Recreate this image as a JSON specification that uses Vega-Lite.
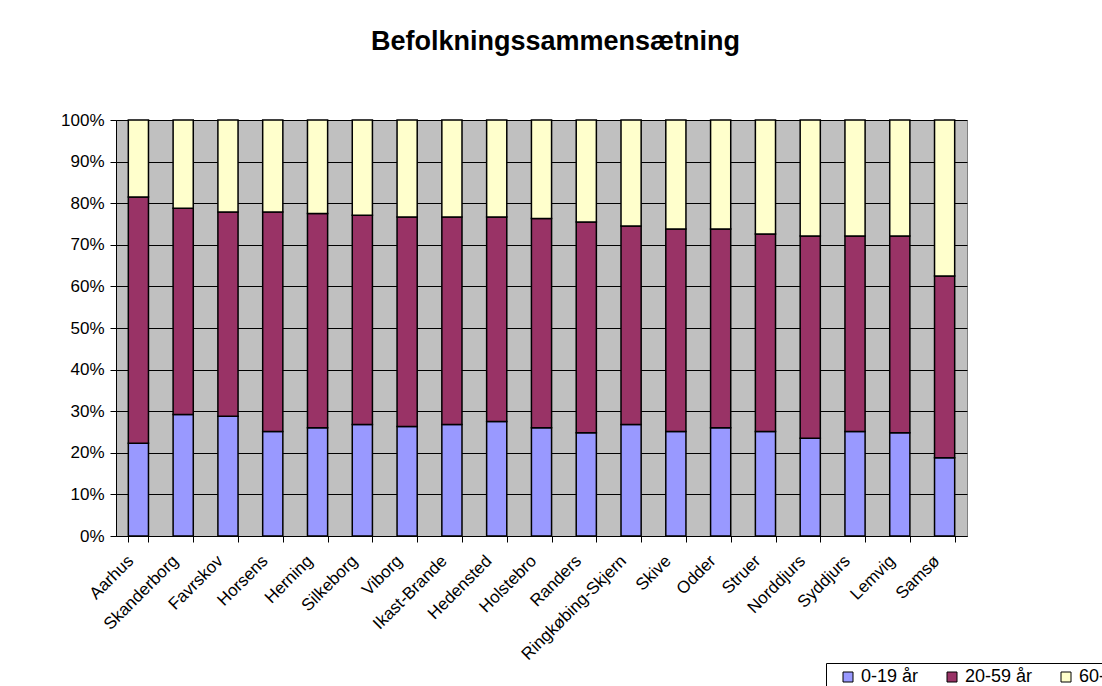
{
  "$schema": "https://vega.github.io/schema/vega-lite/v6.json",
  "width": 851,
  "height": 416,
  "autosize": {"type": "none"},
  "padding": {"left": 116, "top": 120, "right": 135, "bottom": 150},
  "background": "white",
  "title": {
    "text": "Befolkningssammensætning",
    "font": "Liberation Sans",
    "fontSize": 27,
    "fontWeight": "bold",
    "color": "black",
    "anchor": "middle",
    "offset": 55,
    "dx": 14
  },
  "config": {
    "font": "Liberation Sans",
    "view": {"fill": "#C0C0C0", "stroke": "#808080", "strokeWidth": 1}
  },
  "data": {
    "values": [
      {"kommune": "Aarhus", "gruppe": "0-19 år", "andel": 22.3},
      {"kommune": "Aarhus", "gruppe": "20-59 år", "andel": 59.2},
      {"kommune": "Aarhus", "gruppe": "60- år", "andel": 18.5},
      {"kommune": "Skanderborg", "gruppe": "0-19 år", "andel": 29.2},
      {"kommune": "Skanderborg", "gruppe": "20-59 år", "andel": 49.6},
      {"kommune": "Skanderborg", "gruppe": "60- år", "andel": 21.2},
      {"kommune": "Favrskov", "gruppe": "0-19 år", "andel": 28.8},
      {"kommune": "Favrskov", "gruppe": "20-59 år", "andel": 49.1},
      {"kommune": "Favrskov", "gruppe": "60- år", "andel": 22.1},
      {"kommune": "Horsens", "gruppe": "0-19 år", "andel": 25.1},
      {"kommune": "Horsens", "gruppe": "20-59 år", "andel": 52.8},
      {"kommune": "Horsens", "gruppe": "60- år", "andel": 22.1},
      {"kommune": "Herning", "gruppe": "0-19 år", "andel": 26.0},
      {"kommune": "Herning", "gruppe": "20-59 år", "andel": 51.5},
      {"kommune": "Herning", "gruppe": "60- år", "andel": 22.5},
      {"kommune": "Silkeborg", "gruppe": "0-19 år", "andel": 26.8},
      {"kommune": "Silkeborg", "gruppe": "20-59 år", "andel": 50.3},
      {"kommune": "Silkeborg", "gruppe": "60- år", "andel": 22.9},
      {"kommune": "Viborg", "gruppe": "0-19 år", "andel": 26.3},
      {"kommune": "Viborg", "gruppe": "20-59 år", "andel": 50.4},
      {"kommune": "Viborg", "gruppe": "60- år", "andel": 23.3},
      {"kommune": "Ikast-Brande", "gruppe": "0-19 år", "andel": 26.8},
      {"kommune": "Ikast-Brande", "gruppe": "20-59 år", "andel": 49.9},
      {"kommune": "Ikast-Brande", "gruppe": "60- år", "andel": 23.3},
      {"kommune": "Hedensted", "gruppe": "0-19 år", "andel": 27.5},
      {"kommune": "Hedensted", "gruppe": "20-59 år", "andel": 49.2},
      {"kommune": "Hedensted", "gruppe": "60- år", "andel": 23.3},
      {"kommune": "Holstebro", "gruppe": "0-19 år", "andel": 26.0},
      {"kommune": "Holstebro", "gruppe": "20-59 år", "andel": 50.3},
      {"kommune": "Holstebro", "gruppe": "60- år", "andel": 23.7},
      {"kommune": "Randers", "gruppe": "0-19 år", "andel": 24.8},
      {"kommune": "Randers", "gruppe": "20-59 år", "andel": 50.7},
      {"kommune": "Randers", "gruppe": "60- år", "andel": 24.5},
      {"kommune": "Ringkøbing-Skjern", "gruppe": "0-19 år", "andel": 26.8},
      {"kommune": "Ringkøbing-Skjern", "gruppe": "20-59 år", "andel": 47.7},
      {"kommune": "Ringkøbing-Skjern", "gruppe": "60- år", "andel": 25.5},
      {"kommune": "Skive", "gruppe": "0-19 år", "andel": 25.1},
      {"kommune": "Skive", "gruppe": "20-59 år", "andel": 48.7},
      {"kommune": "Skive", "gruppe": "60- år", "andel": 26.2},
      {"kommune": "Odder", "gruppe": "0-19 år", "andel": 26.0},
      {"kommune": "Odder", "gruppe": "20-59 år", "andel": 47.8},
      {"kommune": "Odder", "gruppe": "60- år", "andel": 26.2},
      {"kommune": "Struer", "gruppe": "0-19 år", "andel": 25.1},
      {"kommune": "Struer", "gruppe": "20-59 år", "andel": 47.5},
      {"kommune": "Struer", "gruppe": "60- år", "andel": 27.4},
      {"kommune": "Norddjurs", "gruppe": "0-19 år", "andel": 23.5},
      {"kommune": "Norddjurs", "gruppe": "20-59 år", "andel": 48.6},
      {"kommune": "Norddjurs", "gruppe": "60- år", "andel": 27.9},
      {"kommune": "Syddjurs", "gruppe": "0-19 år", "andel": 25.1},
      {"kommune": "Syddjurs", "gruppe": "20-59 år", "andel": 47.0},
      {"kommune": "Syddjurs", "gruppe": "60- år", "andel": 27.9},
      {"kommune": "Lemvig", "gruppe": "0-19 år", "andel": 24.8},
      {"kommune": "Lemvig", "gruppe": "20-59 år", "andel": 47.3},
      {"kommune": "Lemvig", "gruppe": "60- år", "andel": 27.9},
      {"kommune": "Samsø", "gruppe": "0-19 år", "andel": 18.8},
      {"kommune": "Samsø", "gruppe": "20-59 år", "andel": 43.7},
      {"kommune": "Samsø", "gruppe": "60- år", "andel": 37.5}
    ]
  },
  "mark": {"type": "bar", "stroke": "black", "strokeWidth": 1.5},
  "encoding": {
    "x": {
      "field": "kommune",
      "type": "nominal",
      "sort": null,
      "scale": {"paddingInner": 0.55, "paddingOuter": 0.275},
      "axis": {
        "title": null,
        "labelAngle": -45,
        "labelAlign": "right",
        "labelBaseline": "middle",
        "labelFontSize": 17,
        "labelColor": "black",
        "labelPadding": 16,
        "labelOffset": -8,
        "labelOverlap": false,
        "tickBand": "extent",
        "tickColor": "black",
        "tickSize": 6,
        "domainColor": "black",
        "grid": false
      }
    },
    "y": {
      "field": "andel",
      "type": "quantitative",
      "stack": "normalize",
      "scale": {"domain": [0, 1]},
      "axis": {
        "title": null,
        "format": ".0%",
        "values": [0, 0.1, 0.2, 0.3, 0.4, 0.5, 0.6, 0.7, 0.8, 0.9, 1],
        "labelFontSize": 17,
        "labelColor": "black",
        "labelPadding": 6,
        "tickColor": "black",
        "tickSize": 6,
        "domainColor": "black",
        "grid": true,
        "gridColor": "black",
        "gridOpacity": 1,
        "gridWidth": 1
      }
    },
    "color": {
      "field": "gruppe",
      "type": "nominal",
      "scale": {
        "domain": ["0-19 år", "20-59 år", "60- år"],
        "range": ["#9999FF", "#993366", "#FFFFCC"]
      },
      "legend": {
        "title": null,
        "orient": "none",
        "direction": "horizontal",
        "legendX": 710,
        "legendY": 543,
        "strokeColor": "black",
        "fillColor": "white",
        "padding": 5,
        "symbolType": "square",
        "symbolSize": 100,
        "symbolOffset": 8,
        "symbolStrokeColor": "black",
        "symbolStrokeWidth": 1,
        "labelFontSize": 18,
        "labelColor": "black",
        "labelOffset": 4,
        "columnPadding": 16
      }
    },
    "order": {"field": "gruppe", "sort": "ascending"}
  }
}
